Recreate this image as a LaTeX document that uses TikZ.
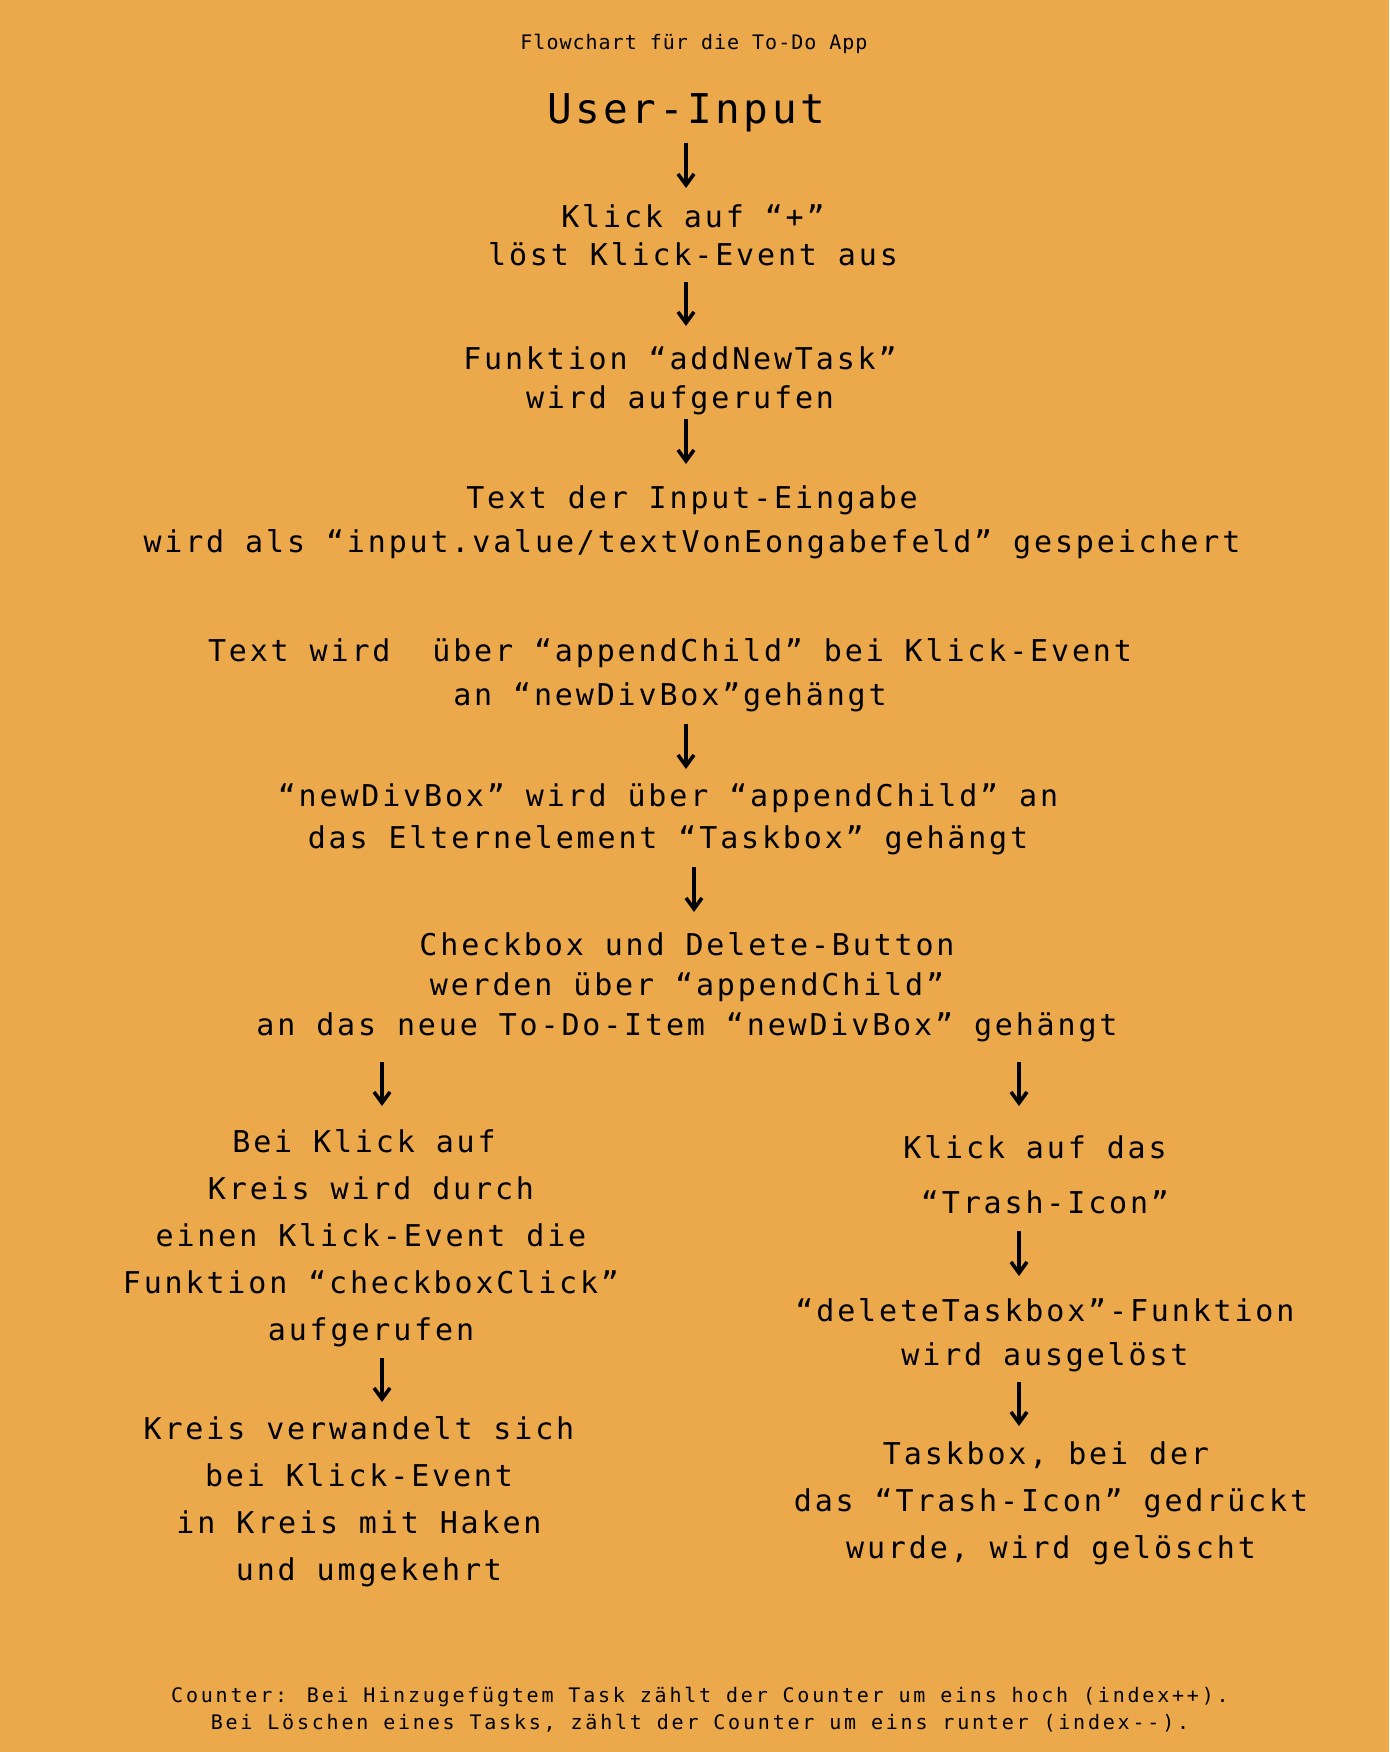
\documentclass[tikz,border=0pt]{standalone}
\usepackage{fontspec}
\usetikzlibrary{arrows.meta}
\newfontfamily\titlefont[LetterSpace=5]{DejaVu Sans Mono}
\newfontfamily\headfont[LetterSpace=8.4]{DejaVu Sans Mono}
\newfontfamily\bodyfont[LetterSpace=9.5]{DejaVu Sans Mono}
\newfontfamily\notefont[LetterSpace=14]{DejaVu Sans Mono}
\definecolor{bgorange}{HTML}{EBA94C}
\tikzset{
  body/.style={font=\bodyfont\fontsize{30}{#1}\selectfont, align=center, inner sep=0pt},
  flow/.style={-{Straight Barb[length=11pt,width=16pt]}, line width=3.6pt, line cap=butt},
}
\begin{document}
\begin{tikzpicture}[x=1pt,y=-1pt]
  % page background
  \fill[bgorange] (0,0) rectangle (1389,1752);
  \useasboundingbox (0,0) rectangle (1389,1752);

  % heading
  \node[font=\titlefont\fontsize{20}{24}\selectfont, inner sep=0pt] (title) at (694,44) {Flowchart für die To-Do App};
  \node[font=\headfont\fontsize{41}{48}\selectfont, inner sep=0pt] (userinput) at (686,113) {User-Input};

  % main column
  \node[body=38] (klick) at (693,235) {Klick auf “+”\\löst Klick-Event aus};
  \node[body=39] (funktion) at (680,381) {Funktion “addNewTask”\\wird aufgerufen};
  \node[body=44] (eingabe) at (692,522) {Text der Input-Eingabe\\wird als “input.value/textVonEongabefeld” gespeichert};
  \node[body=44] (append) at (670,675) {Text wird~~über “appendChild” bei Klick-Event\\an “newDivBox”gehängt};
  \node[body=42] (divbox) at (668,819) {“newDivBox” wird über “appendChild” an\\das Elternelement “Taskbox” gehängt};
  \node[body=40] (checkbox) at (687,987) {Checkbox und Delete-Button\\werden über “appendChild”\hspace*{22pt}\\an das neue To-Do-Item “newDivBox” gehängt};

  % left branch
  \node[body=47] (kreisklick) at (371,1238) {Bei Klick auf\hspace*{14pt}\\Kreis wird durch\hspace*{14pt}\\einen Klick-Event die\\Funktion “checkboxClick”\\aufgerufen};
  \node[body=47] (haken) at (359,1502) {Kreis verwandelt sich\\bei Klick-Event\\in Kreis mit Haken\\\hspace*{20pt}und umgekehrt};

  % right branch
  \node[body=55] (trash) at (1035,1175) {Klick auf das\\\hspace*{20pt}“Trash-Icon”};
  \node[body=44] (delete) at (1045,1335) {“deleteTaskbox”-Funktion\\wird ausgelöst};
  \node[body=47] (geloescht) at (1051,1503) {Taskbox, bei der\hspace*{10pt}\\das “Trash-Icon” gedrückt\\wurde, wird gelöscht};

  % counter note
  \node[font=\notefont\fontsize{20}{27}\selectfont, align=center, inner sep=0pt] (counter) at (700,1710)
    {Counter: Bei Hinzugefügtem Task zählt der Counter um eins hoch (index++).\\Bei Löschen eines Tasks, zählt der Counter um eins runter (index--).};

  % arrow end points
  \coordinate (a1s) at (686,143);  \coordinate (a1e) at (686,188);
  \coordinate (a2s) at (686,282);  \coordinate (a2e) at (686,326);
  \coordinate (a3s) at (686,419);  \coordinate (a3e) at (686,464);
  \coordinate (a4s) at (686,724);  \coordinate (a4e) at (686,769);
  \coordinate (a5s) at (694,867);  \coordinate (a5e) at (694,912);
  \coordinate (l1s) at (382,1062); \coordinate (l1e) at (382,1106);
  \coordinate (r1s) at (1019,1062);\coordinate (r1e) at (1019,1106);
  \coordinate (l2s) at (382,1358); \coordinate (l2e) at (382,1402);
  \coordinate (r2s) at (1019,1231);\coordinate (r2e) at (1019,1276);
  \coordinate (r3s) at (1019,1382);\coordinate (r3e) at (1019,1426);

  \draw[flow] (a1s) -- (a1e);
  \draw[flow] (a2s) -- (a2e);
  \draw[flow] (a3s) -- (a3e);
  \draw[flow] (a4s) -- (a4e);
  \draw[flow] (a5s) -- (a5e);
  \draw[flow] (l1s) -- (l1e);
  \draw[flow] (r1s) -- (r1e);
  \draw[flow] (l2s) -- (l2e);
  \draw[flow] (r2s) -- (r2e);
  \draw[flow] (r3s) -- (r3e);
\end{tikzpicture}
\end{document}
